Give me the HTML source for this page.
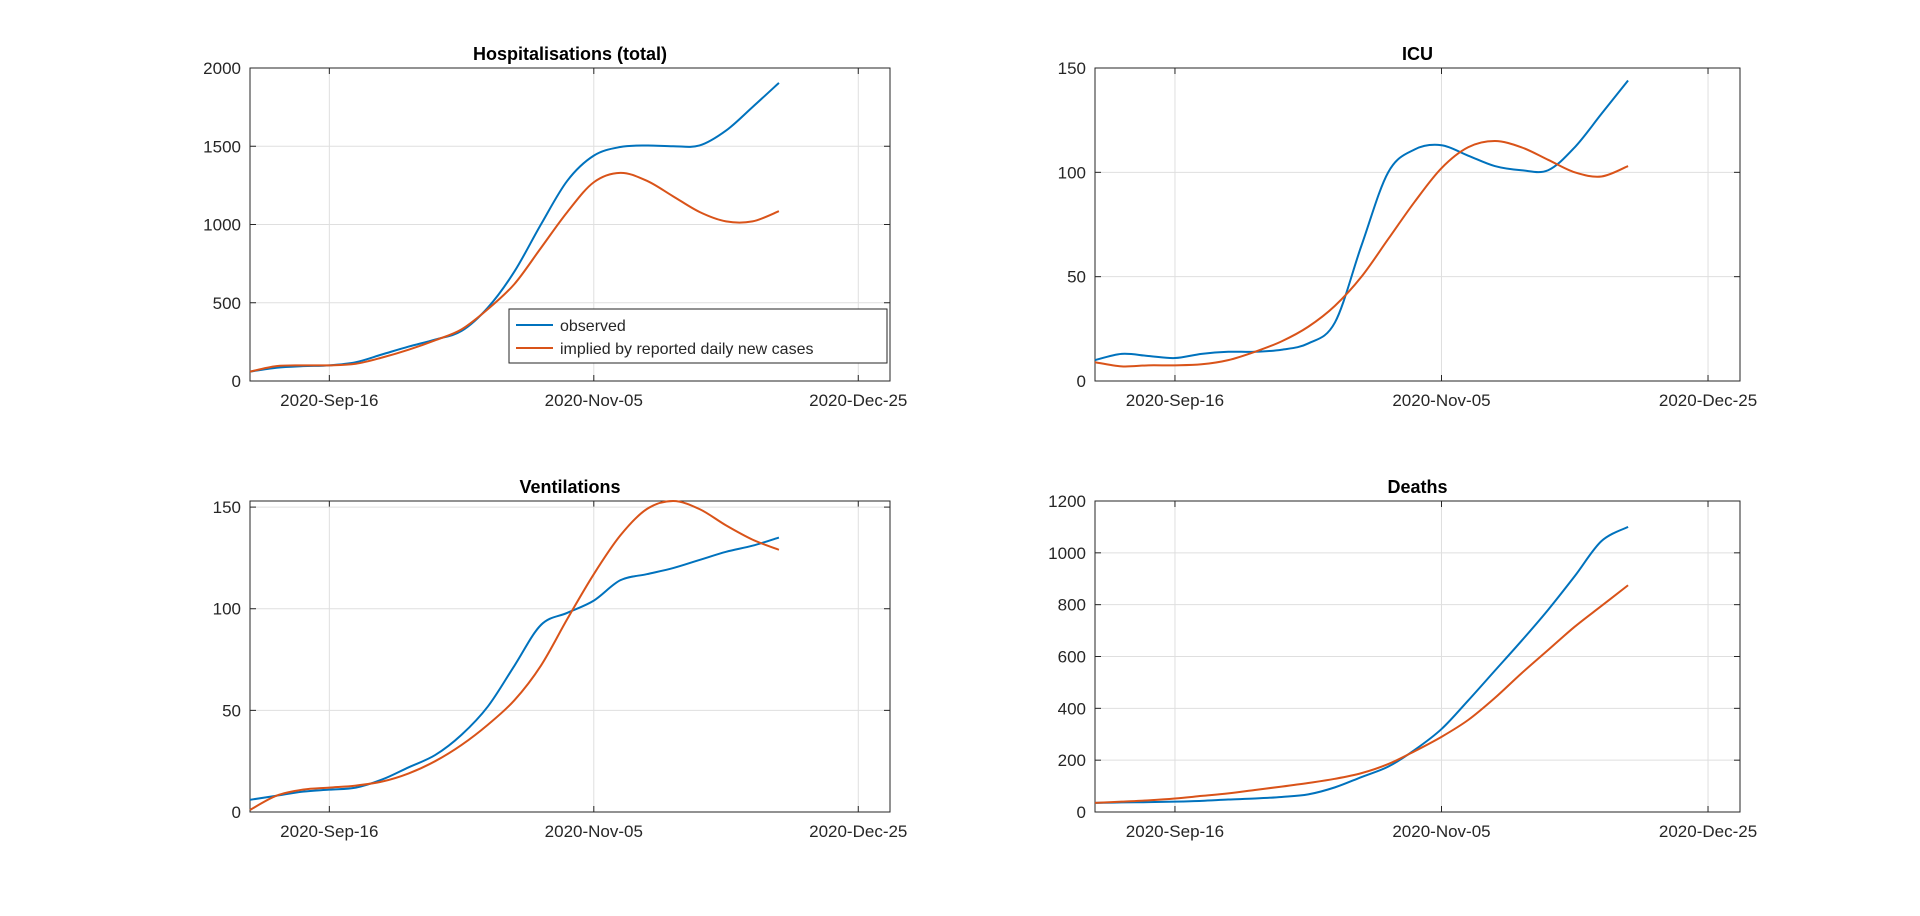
<!DOCTYPE html>
<html><head><meta charset="utf-8"><style>
body{margin:0;background:#fff;}
svg text{font-family:"Liberation Sans",Arial,sans-serif;fill:#262626;}
</style></head><body>
<svg id="fig" width="1920" height="911" xmlns="http://www.w3.org/2000/svg"></svg>
<script>
const days = [0,5,10,15,20,25,30,35,40,45,50,55,60,65,70,75,80,85,90,95,100];
const xTickLabels = ["2020-Sep-16","2020-Nov-05","2020-Dec-25"];
const xTickDays = [15,65,115];
const hospObserved = [60,85,95,100,120,170,220,265,320,470,700,1000,1280,1440,1495,1505,1500,1505,1600,1750,1905];
const hospImplied  = [60,95,100,100,110,150,200,260,330,460,620,850,1080,1270,1330,1280,1180,1080,1020,1020,1085];
const icuObserved  = [10,13,12,11,13,14,14,15,18,28,65,100,111,113,108,103,101,101,112,128,144];
const icuImplied   = [9,7,7.5,7.5,8,10,14,19,26,36,50,68,86,102,112,115,112,106,100,98,103];
const ventObserved = [6,8,10,11,12,16,22,28,38,52,72,92,98,104,114,117,120,124,128,131,135];
const ventImplied  = [1,8,11,12,13,15,19,25,33,43,55,72,95,117,136,149,153,149,141,134,129];
const deathObserved= [35,37,38,40,43,48,52,58,68,95,135,175,240,320,430,545,660,780,910,1045,1100];
const deathImplied = [35,40,45,52,62,72,85,98,112,128,150,185,235,290,355,440,535,625,715,795,875];

const panels = [
 {name:"hospitalisations",title:"Hospitalisations (total)",x0:250,x1:890,y0:68,y1:381,ymax:2000,yticks:[0,500,1000,1500,2000],obs:hospObserved,imp:hospImplied,legend:true},
 {name:"icu",title:"ICU",x0:1095,x1:1740,y0:68,y1:381,ymax:150,yticks:[0,50,100,150],obs:icuObserved,imp:icuImplied},
 {name:"ventilations",title:"Ventilations",x0:250,x1:890,y0:501,y1:812,ymax:153,yticks:[0,50,100,150],obs:ventObserved,imp:ventImplied},
 {name:"deaths",title:"Deaths",x0:1095,x1:1740,y0:501,y1:812,ymax:1200,yticks:[0,200,400,600,800,1000,1200],obs:deathObserved,imp:deathImplied}
];
const NS="http://www.w3.org/2000/svg";
const svg=document.getElementById('fig');
function mk(tag,attrs,parent){const e=document.createElementNS(NS,tag);for(const k in attrs)e.setAttribute(k,attrs[k]);(parent||svg).appendChild(e);return e;}
function smooth(pts){let d=`M${pts[0][0]},${pts[0][1]}`;for(let i=0;i<pts.length-1;i++){const p0=pts[Math.max(0,i-1)],p1=pts[i],p2=pts[i+1],p3=pts[Math.min(pts.length-1,i+2)];const c1=[p1[0]+(p2[0]-p0[0])/6,p1[1]+(p2[1]-p0[1])/6],c2=[p2[0]-(p3[0]-p1[0])/6,p2[1]-(p3[1]-p1[1])/6];d+=` C${c1[0]},${c1[1]} ${c2[0]},${c2[1]} ${p2[0]},${p2[1]}`;}return d;}
panels.forEach(p=>{
 const g=mk('g',{});
 
 
 const xs=d=>p.x0+(d/121)*(p.x1-p.x0);
 const ys=v=>p.y1-(v/p.ymax)*(p.y1-p.y0);
 xTickDays.forEach((d,i)=>{
  const x=xs(d);
  const gl=mk('line',{x1:x,x2:x,y1:p.y0,y2:p.y1,stroke:'#dfdfdf','stroke-width':1},g);
  
  
  mk('line',{x1:x,x2:x,y1:p.y1,y2:p.y1-6,stroke:'#262626'},g);
  mk('line',{x1:x,x2:x,y1:p.y0,y2:p.y0+6,stroke:'#262626'},g);
  const t=mk('text',{x:x,y:p.y1+25,'text-anchor':'middle','font-size':17},g);
  t.textContent=xTickLabels[i];
  
  
 });
 p.yticks.forEach(v=>{
  const y=ys(v);
  if(v>0&&v<p.ymax){const gl=mk('line',{x1:p.x0,x2:p.x1,y1:y,y2:y,stroke:'#dfdfdf'},g);
  
  }
  mk('line',{x1:p.x0,x2:p.x0+6,y1:y,y2:y,stroke:'#262626'},g);
  mk('line',{x1:p.x1,x2:p.x1-6,y1:y,y2:y,stroke:'#262626'},g);
  const t=mk('text',{x:p.x0-9,y:y+6,'text-anchor':'end','font-size':17},g);
  t.textContent=v;
  
  
 });
 const box=mk('rect',{x:p.x0,y:p.y0,width:p.x1-p.x0,height:p.y1-p.y0,fill:'none',stroke:'#262626','stroke-width':1},g);
 
 
 const tt=mk('text',{x:(p.x0+p.x1)/2,y:p.y0-8,'text-anchor':'middle','font-size':18,'font-weight':'bold'},g);
 tt.textContent=p.title;
 tt.style.fill='#000';
 
 
 const o=mk('path',{d:smooth(days.map((d,i)=>[xs(d),ys(p.obs[i])])),fill:'none',stroke:'#0072BD','stroke-width':2},g);
 
 
 const m=mk('path',{d:smooth(days.map((d,i)=>[xs(d),ys(p.imp[i])])),fill:'none',stroke:'#D95319','stroke-width':2},g);
 
 
 if(p.legend){
  const lg=mk('g',{},g);
  
  
  mk('rect',{x:509,y:309,width:378,height:54,fill:'#fff',stroke:'#262626'},lg);
  const e1=mk('g',{},lg);
  
  
  mk('line',{x1:516,x2:553,y1:325,y2:325,stroke:'#0072BD','stroke-width':2},e1);
  const a=mk('text',{x:560,y:331,'font-size':16},e1);a.textContent='observed';
  const e2=mk('g',{},lg);
  
  
  mk('line',{x1:516,x2:553,y1:348,y2:348,stroke:'#D95319','stroke-width':2},e2);
  const b=mk('text',{x:560,y:354,'font-size':16},e2);b.textContent='implied by reported daily new cases';
 }
});
</script>
</body></html>
